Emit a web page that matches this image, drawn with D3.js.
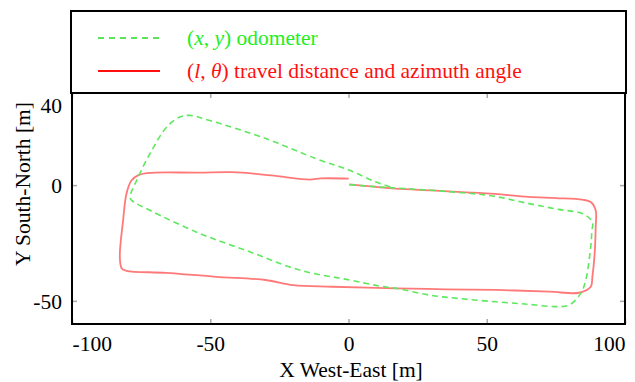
<!DOCTYPE html>
<html>
<head>
<meta charset="utf-8">
<script src="https://cdn.jsdelivr.net/npm/d3@7"></script>
<style>
  body { margin: 0; background: #fff; }
  svg text { font-family: 'Liberation Serif', 'Times New Roman', serif; }
</style>
</head>
<body>
<svg id="chart" width="635" height="382"></svg>
<script>
// (l, theta) travel distance and azimuth angle track [m]
const redX = [0.3, 10, 17, 30, 41, 53, 65, 75, 84.6, 87.6, 89.4, 89.4, 89, 88.2, 87.6, 83.4, 72.6, 53.3, 35, 17.2, -6, -20, -30, -48, -66, -80.3, -82, -82.7, -81.5, -80.3, -78.5, -76, -73, -54, -42, -28, -14, -10, 0.1];
const redY = [0.3, -0.8, -1.5, -2.3, -3, -3.8, -5.1, -5.6, -6.3, -7.3, -10.9, -18, -30, -39.6, -43.9, -46.5, -46, -45.3, -45, -44.6, -43.9, -43.2, -41, -39.6, -37.9, -37, -36, -31, -15, -3.7, 2, 4.3, 5.2, 5.4, 5.6, 4.2, 2.4, 2.9, 2.8];

// (x, y) odometer track [m]
const greenX = [0.3, 10, 20, 35, 52, 65.3, 76, 84.6, 88.2, 88, 87.6, 85.8, 84, 79.8, 75, 65, 53.3, 40, 29.2, 17.2, 11.2, 0.4, -17.7, -35.7, -53.8, -71.8, -78.4, -79, -76.6, -71.8, -65.8, -61, -57.4, -50.2, -29.7, -11.7, 0.4, 10, 16];
const greenY = [0.2, -0.7, -1.5, -2.7, -4.7, -8, -10.5, -12.3, -15.9, -20, -26.7, -41, -46.8, -51.8, -52.5, -51.5, -50.4, -49, -47.5, -44.6, -43.6, -41, -36.7, -28.8, -20.9, -10.9, -6.6, -5.1, 2.1, 13.6, 25, 29.4, 30.1, 27.9, 20, 11.4, 6.4, 1.3, -1.1];

const xTicks = [-100, -50, 0, 50, 100];
const yTicks = [-50, 0, 40];

const svg = d3.select('#chart');
const plotLeft = 72, plotRight = 625, plotTop = 93, plotBottom = 324;
const serif = "'Liberation Serif', 'Times New Roman', serif";
const fontSize = 21.5;

const x = d3.scaleLinear().domain([-100, 100]).range([plotLeft, plotRight]);
const y = d3.scaleLinear().domain([-60, 40]).range([plotBottom, plotTop - 0.5]);

// ticks on all four sides, pointing inside
function styleAxis(g) {
  g.attr('font-family', serif).attr('font-size', fontSize);
  g.select('.domain').remove();
  g.selectAll('.tick line').attr('stroke', '#aaa').attr('stroke-width', 1.5);
}
const fmt = d => String(d);  // plain hyphen minus, like the original

const xAxis = svg.append('g')
  .attr('transform', `translate(0,${plotBottom})`)
  .call(d3.axisBottom(x).tickValues(xTicks).tickFormat(fmt).tickSizeInner(-5).tickSizeOuter(0).tickPadding(12))
  .call(styleAxis);
xAxis.selectAll('text')
  .attr('fill', '#000')
  .attr('text-anchor', d => d === -100 ? 'start' : d === 100 ? 'end' : 'middle');

svg.append('g')
  .attr('transform', `translate(0,${plotTop})`)
  .call(d3.axisTop(x).tickValues(xTicks).tickSizeInner(-5).tickSizeOuter(0).tickFormat(''))
  .call(styleAxis);

const yAxis = svg.append('g')
  .attr('transform', `translate(${plotLeft},0)`)
  .call(d3.axisLeft(y).tickValues(yTicks).tickFormat(fmt).tickSizeInner(-5).tickSizeOuter(0).tickPadding(10))
  .call(styleAxis);
yAxis.selectAll('text')
  .attr('fill', '#000')
  .attr('dy', d => d === 40 ? '0.95em' : '0.35em');

svg.append('g')
  .attr('transform', `translate(${plotRight},0)`)
  .call(d3.axisRight(y).tickValues(yTicks).tickSizeInner(-5).tickSizeOuter(0).tickFormat(''))
  .call(styleAxis);

// tracks
const line = d3.line()
  .x(d => x(d[0]))
  .y(d => y(d[1]))
  .curve(d3.curveCatmullRom.alpha(0.5));

const plot = svg.append('g');

plot.append('path')
  .datum(redX.map((v, i) => [v, redY[i]]))
  .attr('d', line)
  .attr('fill', 'none')
  .attr('stroke', '#ff6262')
  .attr('stroke-opacity', 0.85)
  .attr('stroke-width', 1.8);

plot.append('path')
  .datum(greenX.map((v, i) => [v, greenY[i]]))
  .attr('d', line)
  .attr('fill', 'none')
  .attr('stroke', '#5fe85f')
  .attr('stroke-width', 1.6)
  .attr('stroke-dasharray', '6,4');

// frame
svg.append('rect')
  .attr('x', plotLeft).attr('y', plotTop)
  .attr('width', plotRight - plotLeft).attr('height', plotBottom - plotTop)
  .attr('fill', 'none').attr('stroke', '#000').attr('stroke-width', 2);

// legend box
const legend = svg.append('g').attr('font-family', serif).attr('font-size', fontSize);
legend.append('rect')
  .attr('x', 71).attr('y', 11)
  .attr('width', plotRight - 71 + 1).attr('height', plotTop - 11)
  .attr('fill', 'none').attr('stroke', '#000').attr('stroke-width', 2);

legend.append('line')
  .attr('x1', 98).attr('x2', 160).attr('y1', 38).attr('y2', 38)
  .attr('stroke', '#22dd22').attr('stroke-width', 1.6)
  .attr('stroke-dasharray', '6,5');
legend.append('line')
  .attr('x1', 98).attr('x2', 160).attr('y1', 71).attr('y2', 71)
  .attr('stroke', '#ff1010').attr('stroke-width', 2);

const t1 = legend.append('text').attr('x', 187).attr('y', 45).attr('fill', '#22ee22');
t1.append('tspan').text('(');
t1.append('tspan').attr('font-style', 'italic').text('x');
t1.append('tspan').text(', ');
t1.append('tspan').attr('font-style', 'italic').text('y');
t1.append('tspan').text(') odometer');

const t2 = legend.append('text').attr('x', 187).attr('y', 78).attr('fill', '#ff1010');
t2.append('tspan').text('(');
t2.append('tspan').attr('font-style', 'italic').text('l');
t2.append('tspan').text(', ');
t2.append('tspan').attr('font-style', 'italic').text('θ');
t2.append('tspan').text(') travel distance and azimuth angle');

// axis titles
svg.append('text')
  .attr('x', 351).attr('y', 377)
  .attr('text-anchor', 'middle')
  .attr('font-size', fontSize)
  .text('X West-East [m]');

svg.append('text')
  .attr('transform', 'translate(30,184) rotate(-90)')
  .attr('text-anchor', 'middle')
  .attr('font-size', fontSize)
  .text('Y South-North [m]');
</script>
</body>
</html>
